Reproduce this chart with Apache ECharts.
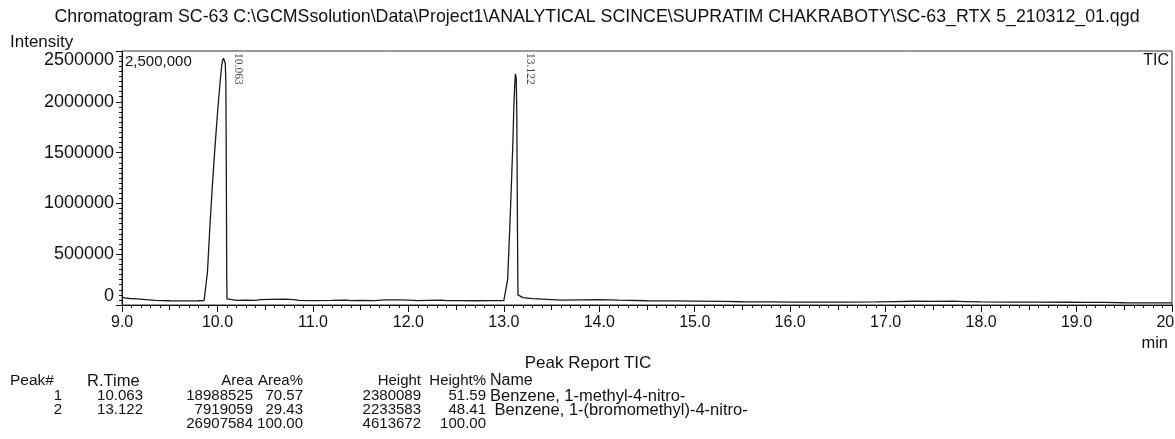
<!DOCTYPE html>
<html>
<head>
<meta charset="utf-8">
<title>Chromatogram SC-63</title>
<script src="https://cdn.jsdelivr.net/npm/echarts@6/dist/echarts.min.js"></script>
<style>
  html, body { margin: 0; padding: 0; background: #fff; }
  #main { width: 1175px; height: 439px; }
</style>
</head>
<body>
<div id="main"></div>
<script>
// retention time (min) and TIC intensity
var times = [9.00, 9.03, 9.08, 9.15, 9.25, 9.35, 9.5, 9.65, 9.8, 9.86,
  9.88, 9.895, 9.92, 9.945, 9.97, 9.99, 10.01, 10.03, 10.045, 10.055,
  10.063, 10.072, 10.082, 10.088, 10.093, 10.097, 10.1, 10.12, 10.2, 10.3,
  10.4, 10.45, 10.55, 10.7, 10.8, 10.85, 11.0, 11.2, 11.35, 11.4,
  11.5, 11.65, 11.75, 11.9, 12.0, 12.1, 12.2, 12.35, 12.4, 12.55,
  12.7, 12.85, 13.0, 13.02, 13.04, 13.06, 13.08, 13.095, 13.105, 13.115,
  13.122, 13.13, 13.136, 13.142, 13.148, 13.16, 13.2, 13.3, 13.45, 13.6,
  13.8, 14.0, 14.2, 14.5, 14.8, 15.0, 15.3, 15.5, 15.8, 16.0,
  16.3, 16.6, 16.9, 17.1, 17.3, 17.5, 17.7, 17.85, 18.0, 18.3,
  18.6, 18.9, 19.1, 19.3, 19.5, 19.7, 20.0];
var intensity = [78000, 70000, 64000, 60000, 52000, 45000, 42000, 41000, 42000, 43000,
  60000, 320000, 760000, 1150000, 1500000, 1760000, 2000000, 2220000, 2360000, 2410000,
  2430000, 2420000, 2380000, 2200000, 1300000, 300000, 60000, 48000, 46000, 47000,
  46000, 52000, 55000, 58000, 53000, 45000, 44000, 45000, 47000, 43000,
  46000, 44000, 50000, 50000, 47000, 44000, 46000, 48000, 43000, 44000,
  42000, 43000, 43000, 48000, 250000, 700000, 1200000, 1600000, 1950000, 2180000,
  2275000, 2230000, 1900000, 900000, 100000, 82000, 72000, 62000, 55000, 48000,
  50000, 52000, 47000, 42000, 40000, 38000, 36000, 32000, 30000, 29000,
  28000, 28000, 30000, 33000, 37000, 36000, 38000, 34000, 30000, 28000,
  29000, 27000, 25000, 26000, 22000, 21000, 20000];

// peak report
var peakNo = ['1', '2'];
var rTime = [10.063, 13.122];
var area = ['18988525', '7919059'];
var areaPct = ['70.57', '29.43'];
var height = ['2380089', '2233583'];
var heightPct = ['51.59', '48.41'];
var names = ['Benzene, 1-methyl-4-nitro-', ' Benzene, 1-(bromomethyl)-4-nitro-'];
var totals = ['26907584', '100.00', '4613672', '100.00'];

var yMax = 2500000;

var chartDom = document.getElementById('main');
var myChart = echarts.init(chartDom, null, { renderer: 'canvas' });

var font = 'Liberation Sans, Arial, sans-serif';
var txt = function (x, y, s, align, size) {
  return {
    type: 'text', x: x, y: y,
    style: { text: s, font: (size || 15) + 'px ' + font, fill: '#111', textAlign: align || 'left', textVerticalAlign: 'middle' }
  };
};

var graphics = [
  txt(597, 17, 'Chromatogram SC-63 C:\\GCMSsolution\\Data\\Project1\\ANALYTICAL SCINCE\\SUPRATIM CHAKRABOTY\\SC-63_RTX 5_210312_01.qgd', 'center', 17.8),
  txt(10, 42, 'Intensity', 'left', 17),
  txt(125, 62, '2,500,000', 'left', 15),
  txt(1169, 61, 'TIC', 'right', 16),
  txt(1168, 343, 'min', 'right', 16.5),
  txt(588, 363, 'Peak Report TIC', 'center', 17)
];

// table columns: [x, align]
var cols = [[62, 'right'], [143, 'right'], [253, 'right'], [303, 'right'], [421, 'right'], [486, 'right'], [490, 'left']];
var header = ['Peak#', 'R.Time', 'Area', 'Area%', 'Height', 'Height%', 'Name'];
graphics.push(txt(10, 381, header[0], 'left', 15.5));
graphics.push(txt(87, 381, header[1], 'left', 16.5));
for (var c = 2; c < header.length; c++) {
  graphics.push(txt(cols[c][0], 381, header[c], cols[c][1], c === 6 ? 16 : 15));
}
for (var r = 0; r < peakNo.length; r++) {
  var y = 396 + r * 14;
  var row = [peakNo[r], rTime[r].toFixed(3), area[r], areaPct[r], height[r], heightPct[r], names[r]];
  for (var k = 0; k < row.length; k++) {
    graphics.push(txt(cols[k][0], y, row[k], cols[k][1], k === 6 ? 16.5 : 15));
  }
}
for (var t = 0; t < totals.length; t++) {
  graphics.push(txt(cols[t + 2][0], 424, totals[t], 'right'));
}

var option = {
  animation: false,
  grid: {
    left: 122, right: 3, top: 51, bottom: 134,
    outerBoundsMode: 'none',
    show: true, borderColor: '#333', borderWidth: 1
  },
  xAxis: [{
    type: 'value', min: 9, max: 20, interval: 1,
    axisLine: { lineStyle: { color: '#111' } },
    axisTick: { length: 7, lineStyle: { color: '#111' } },
    minorTick: { show: true, splitNumber: 10, length: 3, lineStyle: { color: '#111' } },
    splitLine: { show: false },
    axisLabel: {
      margin: 10, color: '#111', fontSize: 16, fontFamily: font,
      formatter: function (v) { return v.toFixed(1); }
    }
  }, {
    type: 'value', min: 9, max: 20, interval: 0.5, position: 'bottom',
    axisLine: { show: false },
    axisTick: { length: 5, lineStyle: { color: '#111' } },
    axisLabel: { show: false },
    splitLine: { show: false }
  }],
  yAxis: {
    type: 'value', min: 0, max: yMax, interval: 500000,
    axisLine: { show: true, lineStyle: { color: '#111' } },
    axisTick: { show: true, length: 6, lineStyle: { color: '#111' } },
    minorTick: { show: true, splitNumber: 10, length: 3, lineStyle: { color: '#111' } },
    splitLine: { show: false },
    axisLabel: {
      margin: 8, color: '#111', fontSize: 18, fontFamily: font,
      verticalAlignMinLabel: 'bottom', verticalAlignMaxLabel: 'top',
      formatter: function (v) { return String(v); }
    }
  },
  series: [{
    type: 'line',
    data: times.map(function (t, i) { return [t, intensity[i]]; }),
    showSymbol: false,
    lineStyle: { color: '#1a1a1a', width: 1.3 },
    silent: true
  }, {
    type: 'scatter',
    data: rTime.map(function (t) { return [t, yMax]; }),
    symbolSize: 0,
    silent: true,
    label: {
      show: true, position: 'inside', rotate: -90,
      align: 'left', verticalAlign: 'middle', offset: [2, -14.5],
      fontFamily: 'Liberation Serif, Times New Roman, serif', fontSize: 11.5, color: '#111',
      formatter: function (p) { return p.value[0].toFixed(3); }
    }
  }],
  graphic: graphics
};

option && myChart.setOption(option);
</script>
</body>
</html>
